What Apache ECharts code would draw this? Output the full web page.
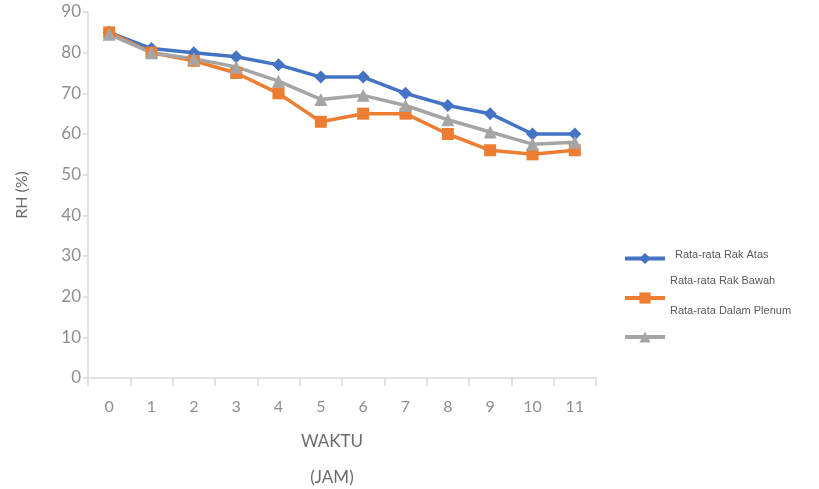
<!DOCTYPE html>
<html>
<head>
<meta charset="utf-8">
<script src="https://cdn.jsdelivr.net/npm/echarts@6/dist/echarts.min.js"></script>
<style>
  html, body { margin: 0; padding: 0; background: #ffffff; }
  #chart { width: 819px; height: 489px; }
</style>
</head>
<body>
<div id="chart"></div>
<script>
// Hours of observation (JAM)
const hours = ['0', '1', '2', '3', '4', '5', '6', '7', '8', '9', '10', '11'];

// Average relative humidity (%) per location
const rakAtas = [85, 81, 80, 79, 77, 74, 74, 70, 67, 65, 60, 60];
const rakBawah = [85, 80, 78, 75, 70, 63, 65, 65, 60, 56, 55, 56];
const dalamPlenum = [84.5, 80, 78.5, 76.5, 73, 68.5, 69.5, 67, 63.5, 60.5, 57.5, 58];

const seriesNames = ['Rata-rata Rak Atas', 'Rata-rata Rak Bawah', 'Rata-rata Dalam Plenum'];
const seriesColors = ['#4472C4', '#ED7D31', '#A5A5A5'];

const axisFont = 'Lato, "Open Sans", sans-serif';

function lineSeries(name, data, color, symbol, size) {
  return {
    name: name,
    type: 'line',
    data: data,
    symbol: symbol,
    symbolSize: size,
    lineStyle: { color: color, width: 3.5 },
    itemStyle: { color: color },
    z: 2
  };
}

// Each legend entry is its own component so its caption can sit above the key
function legendFor(name, top, lift, indent) {
  return {
    data: [name],
    left: 618,
    top: top,
    orient: 'vertical',
    itemWidth: 40,
    itemHeight: 14,
    itemGap: 0,
    lineStyle: { width: 4 },
    formatter: '{t|{name}}\n{s|}',
    textStyle: {
      color: '#595959',
      fontSize: 11,
      fontFamily: '"Liberation Sans", sans-serif',
      rich: {
        t: { fontSize: 11, lineHeight: 13, padding: [0, 0, 0, indent], color: '#595959', fontFamily: '"Liberation Sans", sans-serif' },
        s: { fontSize: 1, lineHeight: lift }
      }
    }
  };
}

const chart = echarts.init(document.getElementById('chart'));
chart.setOption({
  animation: false,
  backgroundColor: '#ffffff',
  color: seriesColors,
  grid: { left: 88, right: 223, top: 12, bottom: 111, outerBoundsMode: 'none', containLabel: false },
  legend: [
    legendFor(seriesNames[0], 244, 8, 5),
    legendFor(seriesNames[1], 270, 35, 0),
    legendFor(seriesNames[2], 300, 53, 0)
  ],
  xAxis: {
    type: 'category',
    data: hours,
    boundaryGap: true,
    name: 'WAKTU\n(JAM)',
    nameLocation: 'middle',
    nameGap: 46,
    nameTextStyle: {
      color: '#6b6b6b',
      fontSize: 17,
      fontFamily: axisFont,
      lineHeight: 36,
      verticalAlign: 'top',
      padding: [0, 20, 0, 0]
    },
    axisLine: { lineStyle: { color: '#d9d9d9', width: 1.5 } },
    axisTick: { show: true, alignWithLabel: false, length: 8, lineStyle: { color: '#d9d9d9', width: 1.5 } },
    axisLabel: { color: '#8f8f8f', fontSize: 16, fontFamily: axisFont, margin: 21 },
    splitLine: { show: false }
  },
  yAxis: {
    type: 'value',
    min: 0,
    max: 90,
    interval: 10,
    name: 'RH (%)',
    nameLocation: 'middle',
    nameGap: 58,
    nameTextStyle: { color: '#6b6b6b', fontSize: 16, fontFamily: axisFont },
    axisLine: { show: true, lineStyle: { color: '#d9d9d9', width: 1.5 } },
    axisTick: { show: true, length: 5, lineStyle: { color: '#d9d9d9', width: 1.5 } },
    axisLabel: { color: '#8f8f8f', fontSize: 17, fontFamily: axisFont, margin: 7 },
    splitLine: { show: false }
  },
  series: [
    lineSeries(seriesNames[0], rakAtas, seriesColors[0], 'diamond', 13),
    lineSeries(seriesNames[1], rakBawah, seriesColors[1], 'rect', 12),
    lineSeries(seriesNames[2], dalamPlenum, seriesColors[2], 'triangle', 13)
  ]
});
</script>
</body>
</html>
